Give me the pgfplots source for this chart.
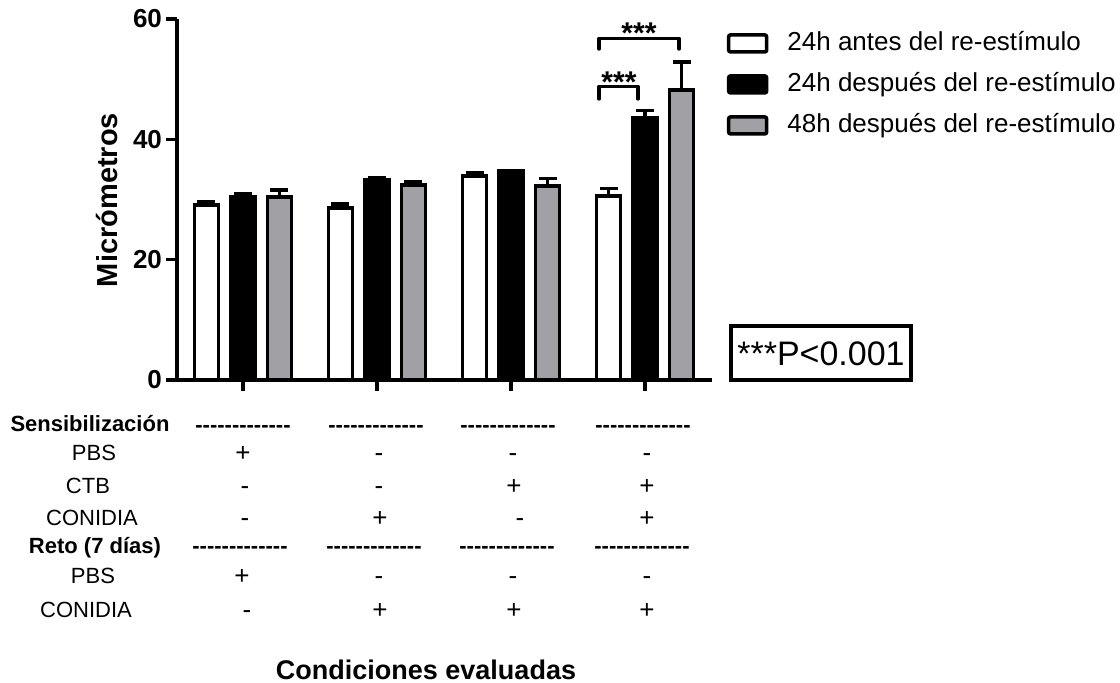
\documentclass[border=0pt]{standalone}
\usepackage{fontspec}
\setmainfont{Liberation Sans}
\usepackage{pgfplots}
\pgfplotsset{compat=1.18}

\definecolor{barg}{RGB}{160,160,165}
\newcommand{\fs}[1]{\fontsize{#1}{#1}\selectfont}
% hyphens kept apart so that they do not merge into dashes
\newcommand{\hy}{-\kern0pt}
\newcommand{\dashes}{\bfseries\hy\hy\hy\hy\hy\hy\hy\hy\hy\hy\hy\hy\hy}

\begin{document}
\begin{tikzpicture}
\begin{axis}[
  name=ax,
  width=267.5pt, height=180.5pt, scale only axis,
  xmin=-0.4925, xmax=3.5, ymin=0, ymax=60,
  axis x line=bottom, axis y line=left,
  axis line style={-, line width=1.8pt},
  xtick={0,1,2,3}, xticklabels={},
  ytick={0,20,40,60},
  tick align=outside, major tick length=5.5pt,
  tick style={line width=1.8pt, black},
  yticklabel style={font=\bfseries\fs{13}, xshift=1.5pt},
  /pgf/number format/assume math mode=true,
  ybar, bar width=12pt, clip=false,
  legend style={at={(rel axis cs:1.027,0.975)}, anchor=north west,
    draw=none, fill=none, inner sep=0pt, row sep=5.5pt, font=\fs{13},
    nodes={inner sep=1pt, text height=10pt, text depth=3pt},
    legend cell align=left,
    /tikz/every odd column/.append style={column sep=8.5pt}},
]
\addlegendimage{legend image code/.code={\draw[fill=white, line width=1.8pt, rounded corners=1pt] (0pt,-4.25pt) rectangle (19pt,4.25pt);}}
\addlegendentry{24h antes del re-estímulo}
\addlegendimage{legend image code/.code={\draw[fill=black, line width=1.8pt, rounded corners=1pt] (0pt,-4.25pt) rectangle (19pt,4.25pt);}}
\addlegendentry{24h después del re-estímulo}
\addlegendimage{legend image code/.code={\draw[fill=barg, line width=1.8pt, rounded corners=1pt] (0pt,-4.25pt) rectangle (19pt,4.25pt);}}
\addlegendentry{48h después del re-estímulo}

\addplot[forget plot, fill=white, draw=black, line width=1.8pt, bar shift=-18.25pt,
  error bars/.cd, y dir=plus, y explicit,
  error bar style={line width=1.8pt, black},
  error mark options={rotate=90, line width=1.8pt, mark size=4.5pt, black}]
  coordinates {(0,29.1) +- (0,0.5) (1,28.6) +- (0,0.7) (2,33.9) +- (0,0.5) (3,30.6) +- (0,1.2)};
\addplot[forget plot, fill=black, draw=black, line width=1.8pt, bar shift=0pt,
  error bars/.cd, y dir=plus, y explicit,
  error bar style={line width=1.8pt, black},
  error mark options={rotate=90, line width=1.8pt, mark size=4.5pt, black}]
  coordinates {(0,30.4) +- (0,0.5) (1,33.2) +- (0,0.4) (2,34.7) +- (0,0.1) (3,43.5) +- (0,1.3)};
\addplot[forget plot, fill=barg, draw=black, line width=1.8pt, bar shift=18.25pt,
  error bars/.cd, y dir=plus, y explicit,
  error bar style={line width=1.8pt, black},
  error mark options={rotate=90, line width=1.8pt, mark size=4.5pt, black}]
  coordinates {(0,30.4) +- (0,1.2) (1,32.4) +- (0,0.5) (2,32.2) +- (0,1.3) (3,48.2) +- (0,4.7)};

% significance brackets
\draw[line width=1.6pt, line cap=round, line join=round]
  (axis cs:2.657,55.0) -- (axis cs:2.657,56.8) -- (axis cs:3.254,56.8) -- (axis cs:3.254,55.0);
\draw[line width=1.6pt, line cap=round, line join=round]
  (axis cs:2.657,46.7) -- (axis cs:2.657,48.8) -- (axis cs:2.948,48.8) -- (axis cs:2.948,46.7);
\node[anchor=base, font=\bfseries\fs{15}, inner sep=0pt] at (axis cs:2.955,56.0) {***};
\node[anchor=base, font=\bfseries\fs{15}, inner sep=0pt] at (axis cs:2.806,47.8) {***};
\end{axis}

% text below and beside the axis, placed in pixel units of the reference
\begin{scope}[shift={(ax.south west)}, xshift=-88.5pt, yshift=190pt, x=0.5pt, y=-0.5pt]
\node[font=\bfseries\fs{14.5}, rotate=90] at (107,200) {Micrómetros};
\node[font=\bfseries\fs{13.5}] at (426,670) {Condiciones evaluadas};
\node[draw, line width=2pt, minimum width=90pt, minimum height=27pt, font=\fs{17}, inner sep=2pt] at (821,353.5) {***P<0.001};

\begin{scope}[font=\fs{11}, every node/.style={text height=8pt, text depth=2.5pt, inner sep=0pt}]
\node[font=\bfseries\fs{11}] at (90,426) {Sensibilización};
\node at (94,455) {PBS};
\node at (88,488) {CTB};
\node at (92,520) {CONIDIA};
\node[font=\bfseries\fs{11}] at (95,548) {Reto (7 días)};
\node at (93,578) {PBS};
\node at (86,612) {CONIDIA};

\node at (243,427) {\dashes}; \node at (376,427) {\dashes};
\node at (508,427) {\dashes}; \node at (643,427) {\dashes};
\node at (240,548) {\dashes}; \node at (374,548) {\dashes};
\node at (507,548) {\dashes}; \node at (642,548) {\dashes};
\end{scope}

\begin{scope}[font=\fs{13}, every node/.style={text height=9pt, text depth=2.5pt, inner sep=0pt}]
\node at (243,455) {+}; \node at (379,455) {-}; \node at (513,455) {-}; \node at (647,455) {-};
\node at (245,488) {-}; \node at (379,488) {-}; \node at (514,488) {+}; \node at (647,488) {+};
\node at (245,520) {-}; \node at (380,520) {+}; \node at (520,520) {-}; \node at (647,520) {+};
\node at (242,578) {+}; \node at (379,578) {-}; \node at (513,578) {-}; \node at (647,578) {-};
\node at (247,612) {-}; \node at (380,612) {+}; \node at (514,612) {+}; \node at (647,612) {+};
\end{scope}

\pgfresetboundingbox
\path (0,0) rectangle (1120,683);
\end{scope}
\end{tikzpicture}
\end{document}
